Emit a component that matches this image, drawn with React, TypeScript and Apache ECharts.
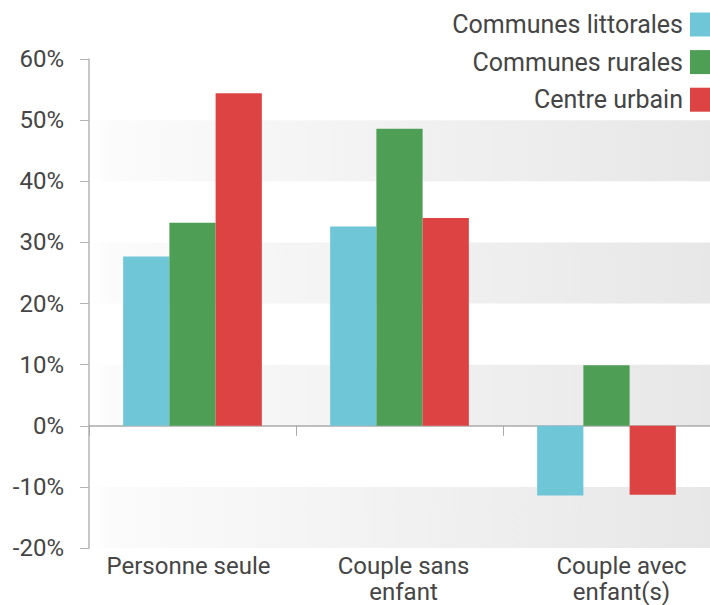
import React, { useEffect, useRef } from "react";
import * as echarts from "echarts";

const categories = ["Personne seule", "Couple sans\nenfant", "Couple avec\nenfant(s)"];
const seriesNames = ["Communes littorales", "Communes rurales", "Centre urbain"];
const littorales = [27.7, 32.6, -11.4];
const rurales = [33.2, 48.6, 9.9];
const urbain = [54.4, 34.0, -11.3];
const seriesColors = ["#6EC6D6", "#4F9E56", "#DC4342"];

export default function App() {
  const ref = useRef<HTMLDivElement>(null);
  useEffect(() => {
    if (!ref.current) return;
    const chart = echarts.init(ref.current, undefined, { renderer: "svg" });
    const font = "Roboto";
    const values = [littorales, rurales, urbain];
    const labelPads = [[0, 8, 0, 0], [0, 0, 0, 8], [0, 0, 0, 30]];
    chart.setOption({
      animation: false,
      textStyle: { fontFamily: font },
      legend: {
        orient: "vertical",
        right: 0,
        top: 12,
        padding: 0,
        align: "right",
        itemWidth: 20,
        itemHeight: 24,
        itemGap: 12.6,
        icon: "rect",
        textStyle: { fontSize: 25, lineHeight: 24, color: "#454545", fontFamily: font, padding: [0, 2, 0, 0] },
        data: seriesNames,
      },
      grid: { left: 89, right: 0, top: 59, bottom: 53, containLabel: false },
      xAxis: [
        {
          type: "category",
          data: categories,
          axisLine: { onZero: true, lineStyle: { color: "#aaa", width: 1.5 } },
          axisTick: { show: true, length: 10, lineStyle: { color: "#aaa" } },
          axisLabel: { show: false },
        },
        {
          type: "category",
          data: categories.map((c, i) => ({ value: c, textStyle: { padding: labelPads[i] } })),
          position: "bottom",
          axisLine: { show: false, onZero: false },
          axisTick: { show: false },
          axisLabel: { interval: 0, fontSize: 24, color: "#454545", lineHeight: 26, margin: 5, fontFamily: font },
        },
      ],
      yAxis: {
        type: "value",
        min: -20,
        max: 60,
        interval: 10,
        axisLine: { show: true, lineStyle: { color: "#b5b5b5", width: 1.5 } },
        axisTick: { show: true, length: 9, lineStyle: { color: "#b5b5b5" } },
        axisLabel: { formatter: "{value}%", fontSize: 24, color: "#454545", margin: 25, fontFamily: font },
        splitLine: { show: false },
        splitArea: {
          show: true,
          areaStyle: {
            color: [
              new echarts.graphic.LinearGradient(0, 0, 1, 0, [
                { offset: 0, color: "#ffffff" },
                { offset: 0.04, color: "#fbfbfb" },
                { offset: 1, color: "#e7e7e7" },
              ]),
              "rgba(255,255,255,0)",
            ],
          },
        },
      },
      series: seriesNames.map((name, i) => ({
        name,
        type: "bar",
        data: values[i],
        barGap: "0%",
        barCategoryGap: "33%",
        itemStyle: { color: seriesColors[i] },
      })),
    });
    return () => chart.dispose();
  }, []);
  return <div ref={ref} style={{ width: 710, height: 605, position: "absolute", left: 0, top: 0 }} />;
}
